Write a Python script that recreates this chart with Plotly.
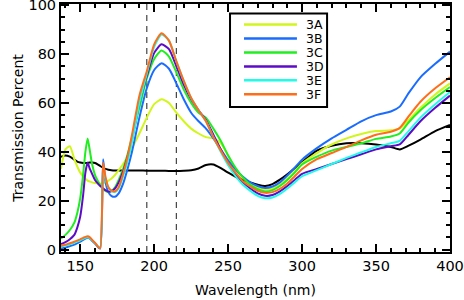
import plotly.graph_objects as go

wavelength = [137, 140, 143, 146, 148, 150, 152, 153.5, 155, 156.5, 158, 160, 162, 163.5,
              165.5, 167, 169, 171, 173.5, 176, 179, 182, 185, 190, 195, 200, 205, 210,
              215, 220, 225, 230, 235, 240, 245, 250, 255, 260, 265, 270, 275, 280, 285,
              290, 295, 300, 310, 320, 330, 340, 350, 360, 366, 372, 380, 390, 400]

reference = [38, 38.5, 38, 36.8, 36, 35.6, 35.4, 35.4, 35.5, 35.6, 35.6, 35.4, 34.8, 34.2,
             33.5, 33, 32.7, 32.5, 32.4, 32.4, 32.4, 32.4, 32.4, 32.4, 32.3, 32.3, 32.3, 32.2,
             32.2, 32.3, 32.5, 33.2, 34.6, 34.8, 33.3, 31.5, 29.8, 28.5, 27.5, 26.5, 26, 26.8, 28.6,
             30.8, 33.3, 35.8, 40.5, 42.5, 43.5, 43.5, 43, 42, 41, 42.5, 45, 48.5, 51]

s3A = [33, 41, 42.3, 37, 34, 31.5, 30, 29, 28.2, 27.8, 27.5, 27.2, 27, 27,
       27.2, 27.5, 28.2, 29, 30.5, 32.5, 35, 38, 41.5, 47.5, 54, 59.5, 61.5, 60,
       56, 52.5, 49.5, 47.5, 46, 45.5, 43.5, 38.5, 33, 29.5, 27, 25.3, 24.5, 25, 26.5,
       29, 32, 35.3, 39.5, 43, 45.5, 47.3, 48.5, 48.8, 49.5, 53, 58, 63.5, 68]

s3B = [0.4, 0.8, 1.4, 2, 2.6, 3.2, 4, 4.5, 4.8, 4.5, 3.6, 2.4, 1, 0.4,
       37, 28, 23.5, 22, 21.6, 23, 27, 33, 40, 54, 66, 73.5, 76.3, 74,
       68, 61.5, 56, 52.5, 49.5, 45.5, 41, 36.5, 32.8, 29.8, 27.5, 26, 25.2, 25.8, 27.5,
       30.3, 33.5, 36.8, 41.5, 45.5, 49, 52.5, 55, 56.5, 58.5, 64, 70.5, 76, 81]

s3C = [4.5, 6, 8, 11, 15, 21, 31, 40, 45.5, 40.5, 35, 30.5, 28, 26.5,
       25, 24, 23.5, 24, 25.5, 28.5, 33, 39, 46, 58, 70, 78, 81.5, 79,
       72.5, 65.5, 60, 56, 54, 49.5, 44.5, 38.5, 33.5, 29.5, 26.5, 24.7, 23.8, 24.3, 26,
       28.5, 31.5, 34.8, 38, 40.5, 42, 43.5, 45.3, 46.3, 47.5, 52, 57, 62, 66.5]

s3D = [2.2, 3, 4.2, 6, 9, 13.5, 22.5, 31.5, 35.5, 33, 31, 28.5, 27, 26,
       25, 24.3, 23.7, 23.8, 25, 27.5, 32, 38, 45, 60, 71, 80.5, 84, 82,
       75, 67.5, 61.5, 57, 53, 47, 41, 35.5, 31, 27.5, 25, 23, 22, 22.3, 23.8,
       26, 28.5, 31, 33, 35, 37, 39, 41, 42.3, 43, 47, 52.5, 58, 63]

s3E = [1.2, 1.6, 2.2, 2.8, 3.3, 3.8, 4.4, 4.8, 5, 4.6, 3.8, 2.6, 1.3, 0.8,
       33, 29, 25.5, 24, 23.5, 25, 30, 36, 44, 60, 72, 83, 88, 85.5,
       77, 69, 62, 57, 52.5, 46, 40, 34.5, 30, 26.5, 24, 22, 21, 21.3, 22.8,
       25, 27.5, 30, 32.5, 35, 37.5, 39.8, 42, 43.5, 44.5, 48.5, 54, 59.5, 64.5]

s3F = [1.6, 2, 2.6, 3.2, 3.7, 4.2, 4.8, 5.2, 5.4, 5, 4, 2.8, 1.2, 0.5,
       35.5, 30, 25.5, 24.2, 23.8, 25.5, 31, 38, 47, 63, 73, 84, 88.5, 85.5,
       77, 69, 62, 57, 52.5, 46, 40.5, 35.5, 31.5, 28, 25.8, 24, 23.2, 23.5, 24.8,
       27, 30, 33, 37, 39.5, 42, 44.7, 47, 48.2, 49.8, 54.5, 60.5, 66, 70.5]

series_names = ["3A", "3B", "3C", "3D", "3E", "3F"]
series_values = [s3A, s3B, s3C, s3D, s3E, s3F]
series_colors = ["#d2f51a", "#1a6cff", "#1fee1f", "#5e0bc8", "#1ffde8", "#ff6d1a"]
marker_wavelengths = [195, 215]

x_range = [137, 400]
y_range = [-1, 100.5]

FONT = "DejaVu Sans"

fig = go.Figure()
fig.add_trace(go.Scatter(x=wavelength, y=reference, mode="lines", name="reference",
                         line=dict(color="black", width=2, shape="spline", smoothing=0.6),
                         showlegend=False))
for name, vals, col in zip(series_names, series_values, series_colors):
    fig.add_trace(go.Scatter(x=wavelength, y=vals, mode="lines", name=name,
                             line=dict(color=col, width=2, shape="spline", smoothing=0.6),
                             showlegend=False))

for wl in marker_wavelengths:
    fig.add_shape(type="line", xref="x", yref="paper", x0=wl, x1=wl, y0=0, y1=1,
                  line=dict(color="#444444", width=1.2, dash="6px,5px"), layer="below")

# legend box drawn in paper coordinates
lx0, lx1, ly0, ly1 = 0.4345, 0.684, 0.585, 0.962
fig.add_shape(type="rect", xref="paper", yref="paper", x0=lx0, x1=lx1, y0=ly0, y1=ly1,
              line=dict(color="black", width=2), fillcolor="white")
for i, (name, col) in enumerate(zip(series_names, series_colors)):
    yy = 0.917 - i * 0.0562
    fig.add_shape(type="line", xref="paper", yref="paper", x0=0.4705, x1=0.6065, y0=yy, y1=yy,
                  line=dict(color=col, width=2.5))
    fig.add_annotation(xref="paper", yref="paper", x=0.625, y=yy, text=name, showarrow=False,
                       xanchor="left", yanchor="middle",
                       font=dict(family=FONT, size=12.5, color="black"))

axis_common = dict(showline=True, linecolor="black", linewidth=2, mirror="ticks",
                   ticks="inside", ticklen=8, tickwidth=1.5, tickcolor="black",
                   showgrid=False, zeroline=False, automargin=False,
                   ticklabeloverflow="allow",
                   tickfont=dict(family=FONT, size=14.5, color="black"))

fig.update_xaxes(range=x_range, dtick=50, tick0=0,
                 minor=dict(ticks="inside", ticklen=4, dtick=10, tickcolor="black", tickwidth=1.5),
                 title=dict(text="Wavelength (nm)", font=dict(family=FONT, size=14, color="black"),
                            standoff=12),
                 **axis_common)
fig.update_yaxes(range=y_range, dtick=20, tick0=0,
                 minor=dict(ticks="inside", ticklen=4, dtick=5, tickcolor="black", tickwidth=1.5),
                 title=dict(text="Transmission Percent", font=dict(family=FONT, size=14, color="black"),
                            standoff=2),
                 **axis_common)

fig.update_layout(width=464, height=300,
                  margin=dict(l=61, r=14, t=4, b=48),
                  paper_bgcolor="white", plot_bgcolor="white",
                  font=dict(family=FONT, size=14, color="black"))

fig.write_html("out.html", config={"displayModeBar": False},
               post_script="document.body.style.margin='0';document.body.style.padding='0';")
